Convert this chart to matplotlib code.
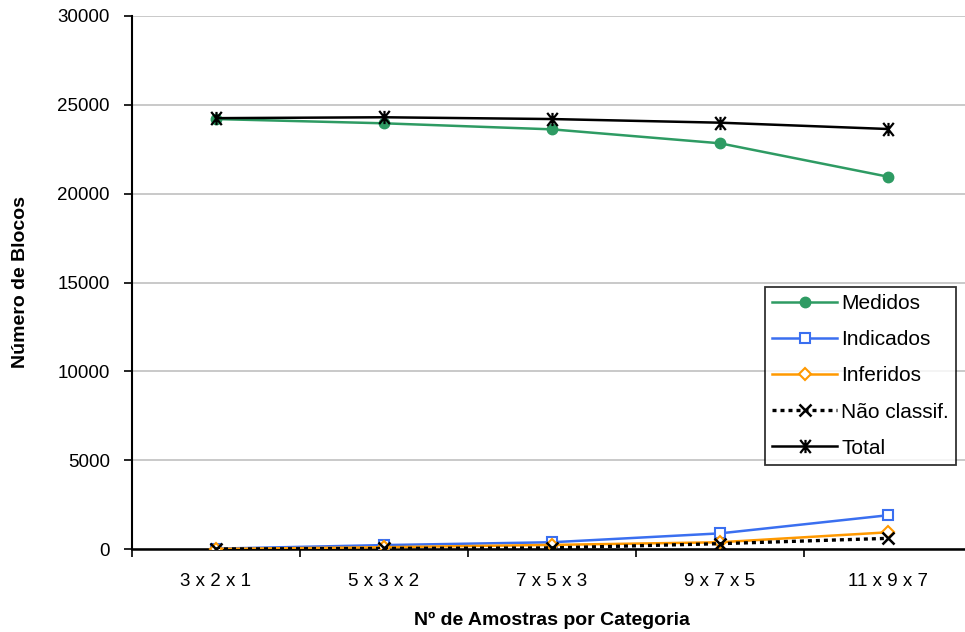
import matplotlib
matplotlib.use("Agg")
import matplotlib.pyplot as plt
from matplotlib.path import Path

categories = ["3 x 2 x 1", "5 x 3 x 2", "7 x 5 x 3", "9 x 7 x 5", "11 x 9 x 7"]
medidos = [24200, 23960, 23620, 22835, 20955]
indicados = [20, 220, 380, 880, 1900]
inferidos = [5, 100, 230, 380, 940]
nao_classif = [0, 30, 60, 300, 600]
total = [24250, 24300, 24200, 23995, 23640]

plt.rcParams['font.family'] = ['Liberation Sans', 'DejaVu Sans']

star = Path([(-0.8, -1), (0.8, 1), (-0.8, 1), (0.8, -1), (0, -1), (0, 1)],
            [Path.MOVETO, Path.LINETO, Path.MOVETO, Path.LINETO, Path.MOVETO, Path.LINETO])

fig = plt.figure(figsize=(9.65, 6.32), dpi=100)
ax = fig.add_axes([132/965, 1-549/632, (972-132)/965, (549-16)/632])

x = list(range(len(categories)))
ax.plot(x, medidos, color='#2e9b63', lw=1.8, marker='o', ms=7.5, label='Medidos', zorder=5)
ax.plot(x, indicados, color='#3a6ff0', lw=1.8, marker='s', ms=7.5, mfc='white', mec='#3a6ff0', mew=1.5, label='Indicados', zorder=5)
ax.plot(x, inferidos, color='#ff9900', lw=1.8, marker='D', ms=6.5, mfc='white', mec='#ff9900', mew=1.5, label='Inferidos', zorder=5)
ax.plot(x, nao_classif, color='black', lw=2.4, ls=(0, (1.2, 1.2)), marker='x', ms=8.5, mew=1.8, label='Não classif.', zorder=6)
ax.plot(x, total, color='black', lw=1.8, marker=star, ms=9.5, mew=1.6, label='Total', zorder=6)

ax.set_xlim(-0.5, 4.5)
ax.set_ylim(0, 30000)
ax.set_yticks(range(0, 30001, 5000))
ax.set_xticks(x)
ax.set_xticklabels(categories)
ax.set_xticks([i + 0.5 for i in range(-1, 5)], minor=True)
ax.tick_params(axis='x', which='major', length=0, pad=17, labelsize=13.5)
ax.tick_params(axis='x', which='minor', length=6, width=1.2, direction='out')
ax.tick_params(axis='y', length=6, width=1.2, direction='out', labelsize=13.5, pad=10)
ax.yaxis.grid(True, color='#c0c0c0', lw=1.2)
ax.set_axisbelow(True)
for s in ['top', 'right']:
    ax.spines[s].set_visible(False)
ax.spines['left'].set_linewidth(1.5)
ax.spines['bottom'].set_linewidth(1.8)

ax.set_ylabel('Número de Blocos', fontsize=14, fontweight='bold', labelpad=20)
ax.set_xlabel('Nº de Amostras por Categoria', fontsize=14, fontweight='bold', labelpad=16)

leg = ax.legend(loc='upper left', bbox_to_anchor=((765-132)/840, (549-287)/533),
                frameon=True, fancybox=False, edgecolor='black', fontsize=15,
                handlelength=3.1, borderpad=0.35, labelspacing=0.82, handletextpad=0.2,
                borderaxespad=0)
leg.get_frame().set_linewidth(1.3)

fig.savefig('out.png', dpi=100)
